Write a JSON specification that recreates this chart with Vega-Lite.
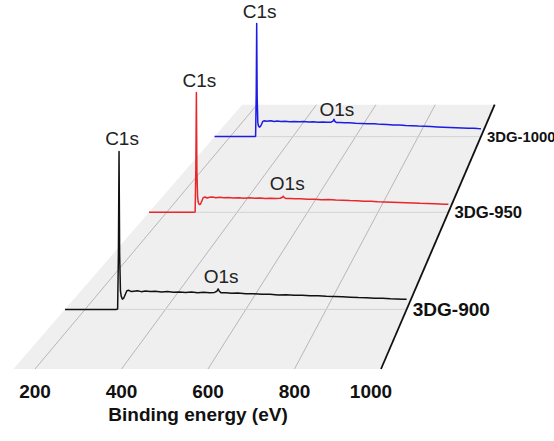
{
  "$schema": "https://vega.github.io/schema/vega-lite/v6.json",
  "autosize": {"type": "none"},
  "padding": {"left": 0, "top": 0, "right": 0, "bottom": 72},
  "width": 554,
  "height": 369,
  "background": "white",
  "config": {"view": {"stroke": null}},
  "datasets": {
    "samples": [
      {"sample": "3DG-900", "depth": 0.5},
      {"sample": "3DG-950", "depth": 1.5},
      {"sample": "3DG-1000", "depth": 2.5}
    ],
    "floor": [
      {"depth": 0, "energyLow": 150, "energyHigh": 1000},
      {"depth": 3, "energyLow": 150, "energyHigh": 1000}
    ],
    "grid": [
      {"energy": 200, "depth": 0}, {"energy": 200, "depth": 3},
      {"energy": 400, "depth": 0}, {"energy": 400, "depth": 3},
      {"energy": 600, "depth": 0}, {"energy": 600, "depth": 3},
      {"energy": 800, "depth": 0}, {"energy": 800, "depth": 3},
      {"energy": 1000, "depth": 0}, {"energy": 1000, "depth": 3}
    ],
    "axisTitle": [
      {"label": "Binding energy (eV)"}
    ],
    "peaks": [
      {"sample": "3DG-900", "label": "C1s", "energy": 284.5, "intensity": 170},
      {"sample": "3DG-900", "label": "O1s", "energy": 531, "intensity": 22},
      {"sample": "3DG-950", "label": "C1s", "energy": 284.5, "intensity": 147},
      {"sample": "3DG-950", "label": "O1s", "energy": 534, "intensity": 19.8},
      {"sample": "3DG-1000", "label": "C1s", "energy": 284.5, "intensity": 156},
      {"sample": "3DG-1000", "label": "O1s", "energy": 531, "intensity": 20}
    ],
    "spectra": [
      {"sample": "3DG-900", "energy": 150, "intensity": 0},
      {"sample": "3DG-900", "energy": 200, "intensity": 0},
      {"sample": "3DG-900", "energy": 250, "intensity": 0},
      {"sample": "3DG-900", "energy": 278, "intensity": 0},
      {"sample": "3DG-900", "energy": 281, "intensity": 0.5},
      {"sample": "3DG-900", "energy": 283, "intensity": 60},
      {"sample": "3DG-900", "energy": 284.5, "intensity": 170},
      {"sample": "3DG-900", "energy": 286, "intensity": 60},
      {"sample": "3DG-900", "energy": 288, "intensity": 20},
      {"sample": "3DG-900", "energy": 290, "intensity": 14},
      {"sample": "3DG-900", "energy": 293, "intensity": 11},
      {"sample": "3DG-900", "energy": 296, "intensity": 12},
      {"sample": "3DG-900", "energy": 300, "intensity": 16},
      {"sample": "3DG-900", "energy": 304, "intensity": 20},
      {"sample": "3DG-900", "energy": 309, "intensity": 20.5},
      {"sample": "3DG-900", "energy": 315, "intensity": 19.2},
      {"sample": "3DG-900", "energy": 322, "intensity": 19.6},
      {"sample": "3DG-900", "energy": 330, "intensity": 20.1},
      {"sample": "3DG-900", "energy": 340, "intensity": 19.1},
      {"sample": "3DG-900", "energy": 350, "intensity": 19.8},
      {"sample": "3DG-900", "energy": 362, "intensity": 19.2},
      {"sample": "3DG-900", "energy": 375, "intensity": 19.6},
      {"sample": "3DG-900", "energy": 390, "intensity": 18.8},
      {"sample": "3DG-900", "energy": 405, "intensity": 19.3},
      {"sample": "3DG-900", "energy": 420, "intensity": 18.5},
      {"sample": "3DG-900", "energy": 435, "intensity": 18.8},
      {"sample": "3DG-900", "energy": 450, "intensity": 18.2},
      {"sample": "3DG-900", "energy": 465, "intensity": 18.6},
      {"sample": "3DG-900", "energy": 480, "intensity": 18.0},
      {"sample": "3DG-900", "energy": 495, "intensity": 18.4},
      {"sample": "3DG-900", "energy": 510, "intensity": 17.9},
      {"sample": "3DG-900", "energy": 522, "intensity": 18.3},
      {"sample": "3DG-900", "energy": 528, "intensity": 19.5},
      {"sample": "3DG-900", "energy": 531, "intensity": 22},
      {"sample": "3DG-900", "energy": 534, "intensity": 19.5},
      {"sample": "3DG-900", "energy": 538, "intensity": 18.0},
      {"sample": "3DG-900", "energy": 550, "intensity": 17.8},
      {"sample": "3DG-900", "energy": 565, "intensity": 17.4},
      {"sample": "3DG-900", "energy": 580, "intensity": 17.6},
      {"sample": "3DG-900", "energy": 600, "intensity": 16.9},
      {"sample": "3DG-900", "energy": 620, "intensity": 16.8},
      {"sample": "3DG-900", "energy": 640, "intensity": 16.2},
      {"sample": "3DG-900", "energy": 660, "intensity": 16.4},
      {"sample": "3DG-900", "energy": 680, "intensity": 15.6},
      {"sample": "3DG-900", "energy": 700, "intensity": 15.8},
      {"sample": "3DG-900", "energy": 720, "intensity": 15.2},
      {"sample": "3DG-900", "energy": 740, "intensity": 15.3},
      {"sample": "3DG-900", "energy": 760, "intensity": 14.6},
      {"sample": "3DG-900", "energy": 780, "intensity": 14.7},
      {"sample": "3DG-900", "energy": 800, "intensity": 14.1},
      {"sample": "3DG-900", "energy": 820, "intensity": 13.9},
      {"sample": "3DG-900", "energy": 840, "intensity": 13.5},
      {"sample": "3DG-900", "energy": 860, "intensity": 13.2},
      {"sample": "3DG-900", "energy": 880, "intensity": 12.8},
      {"sample": "3DG-900", "energy": 900, "intensity": 12.6},
      {"sample": "3DG-900", "energy": 920, "intensity": 12.1},
      {"sample": "3DG-900", "energy": 940, "intensity": 12.0},
      {"sample": "3DG-900", "energy": 960, "intensity": 11.4},
      {"sample": "3DG-900", "energy": 975, "intensity": 11.2},
      {"sample": "3DG-900", "energy": 990, "intensity": 11.0},
      {"sample": "3DG-900", "energy": 1000, "intensity": 10.8},

      {"sample": "3DG-950", "energy": 150, "intensity": 0},
      {"sample": "3DG-950", "energy": 200, "intensity": 0},
      {"sample": "3DG-950", "energy": 250, "intensity": 0},
      {"sample": "3DG-950", "energy": 278, "intensity": 0},
      {"sample": "3DG-950", "energy": 281, "intensity": 0.5},
      {"sample": "3DG-950", "energy": 283, "intensity": 55},
      {"sample": "3DG-950", "energy": 284.5, "intensity": 147},
      {"sample": "3DG-950", "energy": 286, "intensity": 50},
      {"sample": "3DG-950", "energy": 288, "intensity": 18},
      {"sample": "3DG-950", "energy": 290, "intensity": 12},
      {"sample": "3DG-950", "energy": 293, "intensity": 9.5},
      {"sample": "3DG-950", "energy": 296, "intensity": 9.8},
      {"sample": "3DG-950", "energy": 300, "intensity": 14},
      {"sample": "3DG-950", "energy": 304, "intensity": 18},
      {"sample": "3DG-950", "energy": 309, "intensity": 18.8},
      {"sample": "3DG-950", "energy": 315, "intensity": 17.6},
      {"sample": "3DG-950", "energy": 322, "intensity": 18.4},
      {"sample": "3DG-950", "energy": 330, "intensity": 18.9},
      {"sample": "3DG-950", "energy": 340, "intensity": 17.9},
      {"sample": "3DG-950", "energy": 350, "intensity": 18.5},
      {"sample": "3DG-950", "energy": 362, "intensity": 17.8},
      {"sample": "3DG-950", "energy": 375, "intensity": 18.3},
      {"sample": "3DG-950", "energy": 390, "intensity": 17.6},
      {"sample": "3DG-950", "energy": 405, "intensity": 18.0},
      {"sample": "3DG-950", "energy": 420, "intensity": 17.4},
      {"sample": "3DG-950", "energy": 435, "intensity": 17.8},
      {"sample": "3DG-950", "energy": 450, "intensity": 17.2},
      {"sample": "3DG-950", "energy": 465, "intensity": 17.5},
      {"sample": "3DG-950", "energy": 480, "intensity": 17.1},
      {"sample": "3DG-950", "energy": 495, "intensity": 17.4},
      {"sample": "3DG-950", "energy": 510, "intensity": 16.9},
      {"sample": "3DG-950", "energy": 522, "intensity": 17.2},
      {"sample": "3DG-950", "energy": 528, "intensity": 18.2},
      {"sample": "3DG-950", "energy": 531, "intensity": 19.8},
      {"sample": "3DG-950", "energy": 534, "intensity": 18.0},
      {"sample": "3DG-950", "energy": 538, "intensity": 17.0},
      {"sample": "3DG-950", "energy": 550, "intensity": 16.9},
      {"sample": "3DG-950", "energy": 565, "intensity": 16.6},
      {"sample": "3DG-950", "energy": 580, "intensity": 16.7},
      {"sample": "3DG-950", "energy": 600, "intensity": 16.1},
      {"sample": "3DG-950", "energy": 620, "intensity": 16.0},
      {"sample": "3DG-950", "energy": 640, "intensity": 15.5},
      {"sample": "3DG-950", "energy": 660, "intensity": 15.6},
      {"sample": "3DG-950", "energy": 680, "intensity": 15.0},
      {"sample": "3DG-950", "energy": 700, "intensity": 14.9},
      {"sample": "3DG-950", "energy": 720, "intensity": 14.4},
      {"sample": "3DG-950", "energy": 740, "intensity": 14.3},
      {"sample": "3DG-950", "energy": 760, "intensity": 13.7},
      {"sample": "3DG-950", "energy": 780, "intensity": 13.6},
      {"sample": "3DG-950", "energy": 800, "intensity": 13.1},
      {"sample": "3DG-950", "energy": 820, "intensity": 12.8},
      {"sample": "3DG-950", "energy": 840, "intensity": 12.5},
      {"sample": "3DG-950", "energy": 860, "intensity": 12.1},
      {"sample": "3DG-950", "energy": 880, "intensity": 11.8},
      {"sample": "3DG-950", "energy": 900, "intensity": 11.5},
      {"sample": "3DG-950", "energy": 920, "intensity": 11.0},
      {"sample": "3DG-950", "energy": 940, "intensity": 10.8},
      {"sample": "3DG-950", "energy": 960, "intensity": 10.4},
      {"sample": "3DG-950", "energy": 975, "intensity": 10.2},
      {"sample": "3DG-950", "energy": 990, "intensity": 9.9},
      {"sample": "3DG-950", "energy": 1000, "intensity": 9.8},

      {"sample": "3DG-1000", "energy": 150, "intensity": 0},
      {"sample": "3DG-1000", "energy": 200, "intensity": 0},
      {"sample": "3DG-1000", "energy": 250, "intensity": 0},
      {"sample": "3DG-1000", "energy": 278, "intensity": 0},
      {"sample": "3DG-1000", "energy": 281, "intensity": 0.5},
      {"sample": "3DG-1000", "energy": 283, "intensity": 58},
      {"sample": "3DG-1000", "energy": 284.5, "intensity": 156},
      {"sample": "3DG-1000", "energy": 286, "intensity": 55},
      {"sample": "3DG-1000", "energy": 288, "intensity": 20},
      {"sample": "3DG-1000", "energy": 290, "intensity": 15},
      {"sample": "3DG-1000", "energy": 293, "intensity": 13},
      {"sample": "3DG-1000", "energy": 296, "intensity": 13.8},
      {"sample": "3DG-1000", "energy": 300, "intensity": 17},
      {"sample": "3DG-1000", "energy": 304, "intensity": 21},
      {"sample": "3DG-1000", "energy": 309, "intensity": 22},
      {"sample": "3DG-1000", "energy": 315, "intensity": 21.2},
      {"sample": "3DG-1000", "energy": 322, "intensity": 21.6},
      {"sample": "3DG-1000", "energy": 330, "intensity": 21.9},
      {"sample": "3DG-1000", "energy": 340, "intensity": 21.0},
      {"sample": "3DG-1000", "energy": 350, "intensity": 21.5},
      {"sample": "3DG-1000", "energy": 362, "intensity": 20.8},
      {"sample": "3DG-1000", "energy": 375, "intensity": 21.2},
      {"sample": "3DG-1000", "energy": 390, "intensity": 20.6},
      {"sample": "3DG-1000", "energy": 405, "intensity": 21.0},
      {"sample": "3DG-1000", "energy": 420, "intensity": 20.5},
      {"sample": "3DG-1000", "energy": 435, "intensity": 20.7},
      {"sample": "3DG-1000", "energy": 450, "intensity": 20.2},
      {"sample": "3DG-1000", "energy": 465, "intensity": 20.5},
      {"sample": "3DG-1000", "energy": 480, "intensity": 19.9},
      {"sample": "3DG-1000", "energy": 495, "intensity": 20.2},
      {"sample": "3DG-1000", "energy": 510, "intensity": 19.7},
      {"sample": "3DG-1000", "energy": 522, "intensity": 20.0},
      {"sample": "3DG-1000", "energy": 528, "intensity": 21.5},
      {"sample": "3DG-1000", "energy": 531, "intensity": 24},
      {"sample": "3DG-1000", "energy": 534, "intensity": 21.0},
      {"sample": "3DG-1000", "energy": 538, "intensity": 19.6},
      {"sample": "3DG-1000", "energy": 550, "intensity": 19.4},
      {"sample": "3DG-1000", "energy": 565, "intensity": 19.0},
      {"sample": "3DG-1000", "energy": 580, "intensity": 19.1},
      {"sample": "3DG-1000", "energy": 600, "intensity": 18.4},
      {"sample": "3DG-1000", "energy": 620, "intensity": 18.2},
      {"sample": "3DG-1000", "energy": 640, "intensity": 17.6},
      {"sample": "3DG-1000", "energy": 660, "intensity": 17.6},
      {"sample": "3DG-1000", "energy": 680, "intensity": 16.9},
      {"sample": "3DG-1000", "energy": 700, "intensity": 16.8},
      {"sample": "3DG-1000", "energy": 720, "intensity": 16.1},
      {"sample": "3DG-1000", "energy": 740, "intensity": 16.0},
      {"sample": "3DG-1000", "energy": 760, "intensity": 15.3},
      {"sample": "3DG-1000", "energy": 780, "intensity": 15.1},
      {"sample": "3DG-1000", "energy": 800, "intensity": 14.5},
      {"sample": "3DG-1000", "energy": 820, "intensity": 14.2},
      {"sample": "3DG-1000", "energy": 840, "intensity": 13.8},
      {"sample": "3DG-1000", "energy": 860, "intensity": 13.4},
      {"sample": "3DG-1000", "energy": 880, "intensity": 13.0},
      {"sample": "3DG-1000", "energy": 900, "intensity": 12.7},
      {"sample": "3DG-1000", "energy": 920, "intensity": 12.3},
      {"sample": "3DG-1000", "energy": 940, "intensity": 12.0},
      {"sample": "3DG-1000", "energy": 960, "intensity": 11.6},
      {"sample": "3DG-1000", "energy": 975, "intensity": 11.4},
      {"sample": "3DG-1000", "energy": 990, "intensity": 11.1},
      {"sample": "3DG-1000", "energy": 1000, "intensity": 11.0}
    ]
  },
  "layer": [
    {
      "data": {"name": "floor"},
      "transform": [
        {"calculate": "6.58/(6.58+datum.depth)", "as": "s"},
        {"calculate": "1839.3+(datum.energyLow-1839.3)*datum.s", "as": "pxlo"},
        {"calculate": "1839.3+(datum.energyHigh-1839.3)*datum.s", "as": "pxhi"},
        {"calculate": "844*(1-datum.s)", "as": "py"}
      ],
      "mark": {"type": "area", "orient": "horizontal", "color": "#efefef"},
      "encoding": {
        "y": {"field": "py", "type": "quantitative", "scale": {"domain": [0, 369], "nice": false, "zero": false}, "axis": null},
        "x": {"field": "pxlo", "type": "quantitative", "scale": {"domain": [119.08, 1400], "nice": false, "zero": false}, "axis": null},
        "x2": {"field": "pxhi"}
      }
    },
    {
      "data": {"name": "grid"},
      "transform": [
        {"filter": "datum.energy < 1000"},
        {"calculate": "6.58/(6.58+datum.depth)", "as": "s"},
        {"calculate": "1839.3+(datum.energy-1839.3)*datum.s", "as": "px"},
        {"calculate": "844*(1-datum.s)", "as": "py"}
      ],
      "mark": {"type": "line", "stroke": "#a8a8a8", "strokeWidth": 0.8},
      "encoding": {
        "x": {"field": "px", "type": "quantitative", "axis": null},
        "y": {"field": "py", "type": "quantitative", "axis": null},
        "detail": {"field": "energy"},
        "order": {"field": "depth"}
      }
    },
    {
      "data": {"name": "spectra"},
      "transform": [
        {"lookup": "sample", "from": {"data": {"name": "samples"}, "key": "sample", "fields": ["depth"]}},
        {"calculate": "6.58/(6.58+datum.depth)", "as": "s"},
        {"calculate": "1839.3+(datum.energy-1839.3)*datum.s", "as": "px"},
        {"calculate": "844*(1-datum.s)+datum.intensity*datum.s", "as": "py"},
        {"calculate": "844*(1-datum.s)", "as": "pbase"}
      ],
      "layer": [
        {
          "mark": {"type": "area", "fill": "white"},
          "encoding": {
            "x": {"field": "px", "type": "quantitative", "axis": null},
            "y": {"field": "py", "type": "quantitative", "axis": null},
            "y2": {"field": "pbase"},
            "detail": {"field": "sample"},
            "order": {"field": "energy"}
          }
        },
        {
          "mark": {"type": "line", "stroke": "#d2d2d2", "strokeWidth": 1},
          "encoding": {
            "x": {"field": "px", "type": "quantitative", "axis": null},
            "y": {"field": "pbase", "type": "quantitative", "axis": null},
            "detail": {"field": "sample"},
            "order": {"field": "energy"}
          }
        },
        {
          "mark": {"type": "line", "strokeWidth": 1.5, "strokeJoin": "round"},
          "encoding": {
            "x": {"field": "px", "type": "quantitative", "axis": null},
            "y": {"field": "py", "type": "quantitative", "axis": null},
            "color": {
              "field": "sample", "type": "nominal", "legend": null,
              "scale": {"domain": ["3DG-900", "3DG-950", "3DG-1000"], "range": ["#111111", "#e8262b", "#1c1ce4"]}
            },
            "order": {"field": "energy"}
          }
        },
        {
          "transform": [
            {"filter": "datum.energy === 1000"},
            {"calculate": "20.5*datum.s", "as": "fs"}
          ],
          "mark": {"type": "text", "align": "left", "baseline": "middle", "dx": 6, "dy": 1,
                   "font": "Liberation Sans", "fontWeight": "bold", "fill": "#111111"},
          "encoding": {
            "x": {"field": "px", "type": "quantitative", "axis": null},
            "y": {"field": "pbase", "type": "quantitative", "axis": null},
            "text": {"field": "sample"},
            "size": {"field": "fs", "type": "quantitative", "scale": null, "legend": null}
          }
        }
      ]
    },
    {
      "data": {"name": "grid"},
      "transform": [
        {"filter": "datum.energy === 1000"},
        {"calculate": "6.58/(6.58+datum.depth)", "as": "s"},
        {"calculate": "1839.3+(datum.energy-1839.3)*datum.s", "as": "px"},
        {"calculate": "844*(1-datum.s)", "as": "py"}
      ],
      "mark": {"type": "line", "stroke": "#111111", "strokeWidth": 1.8},
      "encoding": {
        "x": {"field": "px", "type": "quantitative", "axis": null},
        "y": {"field": "py", "type": "quantitative", "axis": null},
        "order": {"field": "depth"}
      }
    },
    {
      "data": {"name": "grid"},
      "transform": [
        {"filter": "datum.depth === 0 && datum.energy < 1000"},
        {"calculate": "0", "as": "py"}
      ],
      "mark": {"type": "text", "align": "center", "baseline": "middle", "dy": 23,
               "font": "Liberation Sans", "fontSize": 19, "fontWeight": "bold", "fill": "#111111"},
      "encoding": {
        "x": {"field": "energy", "type": "quantitative", "axis": null},
        "y": {"field": "py", "type": "quantitative", "axis": null},
        "text": {"field": "energy", "type": "quantitative", "format": "d"}
      }
    },
    {
      "data": {"name": "grid"},
      "transform": [
        {"filter": "datum.depth === 0 && datum.energy === 1000"},
        {"calculate": "0", "as": "py"}
      ],
      "mark": {"type": "text", "align": "center", "baseline": "middle", "dy": 23, "dx": -10,
               "font": "Liberation Sans", "fontSize": 19, "fontWeight": "bold", "fill": "#111111"},
      "encoding": {
        "x": {"field": "energy", "type": "quantitative", "axis": null},
        "y": {"field": "py", "type": "quantitative", "axis": null},
        "text": {"field": "energy", "type": "quantitative", "format": "d"}
      }
    },
    {
      "data": {"name": "axisTitle"},
      "mark": {"type": "text", "align": "center", "baseline": "middle",
               "font": "Liberation Sans", "fontSize": 19, "fontWeight": "bold", "fill": "#111111"},
      "encoding": {
        "x": {"datum": 576.9, "type": "quantitative", "axis": null},
        "y": {"datum": -46, "type": "quantitative", "axis": null},
        "text": {"field": "label"}
      }
    },
    {
      "data": {"name": "peaks"},
      "transform": [
        {"lookup": "sample", "from": {"data": {"name": "samples"}, "key": "sample", "fields": ["depth"]}},
        {"calculate": "6.58/(6.58+datum.depth)", "as": "s"},
        {"calculate": "1839.3+(datum.energy-1839.3)*datum.s", "as": "px"},
        {"calculate": "844*(1-datum.s)+datum.intensity*datum.s", "as": "py"}
      ],
      "mark": {"type": "text", "align": "center", "baseline": "middle", "dx": 3, "dy": -12,
               "font": "Liberation Sans", "fontSize": 19, "fill": "#222222"},
      "encoding": {
        "x": {"field": "px", "type": "quantitative", "axis": null},
        "y": {"field": "py", "type": "quantitative", "axis": null},
        "text": {"field": "label"}
      }
    }
  ]
}
